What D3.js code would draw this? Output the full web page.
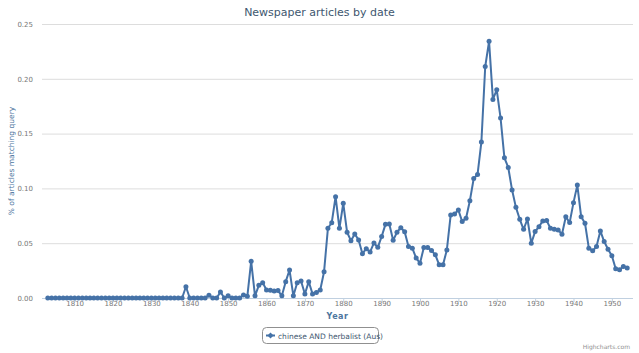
<!DOCTYPE html>
<html>
<head>
<meta charset="utf-8">
<script src="https://cdn.jsdelivr.net/npm/d3@7"></script>
<style>
  body { margin: 0; background: #fff; }
  svg { display: block; font-family: "DejaVu Sans", Verdana, sans-serif; }
</style>
</head>
<body>
<div id="chart"></div>
<script>
// Years covered by the series
const firstYear = 1803;
const lastYear = 1954;

// % of articles matching query, one value per year from 1803 to 1954
const zeroYears = new Array(1838 - 1803 + 1).fill(0); // 1803-1838
const values1839to1874 = [
  0.0103, 0, 0, 0, 0, 0, 0.0025, 0, 0, 0.0055, 0, 0.002,
  0, 0, 0, 0.0027, 0.0015, 0.0335, 0.002, 0.0116, 0.014, 0.0073,
  0.007, 0.0065, 0.0068, 0.002, 0.0149, 0.0255, 0.002, 0.014, 0.0155, 0.0036,
  0.0149, 0.0036, 0.005, 0.0073
];
const values1875to1914 = [
  0.024, 0.0636, 0.0687, 0.0924, 0.0636, 0.0864, 0.06, 0.0523, 0.0584, 0.053,
  0.0404, 0.045, 0.042, 0.0502, 0.0462, 0.056, 0.0672, 0.0675, 0.0526, 0.06,
  0.0642, 0.0604, 0.047, 0.0455, 0.0364, 0.0318, 0.046, 0.046, 0.0433, 0.0394,
  0.0303, 0.0303, 0.0439, 0.0758, 0.0767, 0.0803, 0.0697, 0.0727, 0.0888, 0.109
];
const values1915to1954 = [
  0.1127, 0.1424, 0.2112, 0.2342, 0.1812, 0.19, 0.1642, 0.1279, 0.1191, 0.0985,
  0.0827, 0.0718, 0.0627, 0.0721, 0.05, 0.0606, 0.0651, 0.0703, 0.0706, 0.0636,
  0.0627, 0.0621, 0.0582, 0.0742, 0.0688, 0.087, 0.103, 0.0742, 0.0682, 0.0455,
  0.043, 0.047, 0.0612, 0.0515, 0.0445, 0.0385, 0.0267, 0.0258, 0.0288, 0.0273
];
const seriesValues = zeroYears.concat(values1839to1874, values1875to1914, values1915to1954);

// Tick labels
const yTicks = [0, 0.05, 0.10, 0.15, 0.20, 0.25];
const xTicks = [1810, 1820, 1830, 1840, 1850, 1860, 1870, 1880, 1890, 1900, 1910, 1920, 1930, 1940, 1950];

const seriesName = 'chinese AND herbalist (Aus)';
const titleText = 'Newspaper articles by date';

const data = seriesValues.map((v, i) => ({ year: firstYear + i, value: v }));

const width = 639;
const height = 353;
const plot = { left: 42, right: 633, top: 24, bottom: 298 };
const color = '#4572A7';

const svg = d3.select('#chart')
  .append('svg')
  .attr('width', width)
  .attr('height', height);

// 1% padding on both ends, like the original chart
const pad = (lastYear - firstYear) * 0.01;
const x = d3.scaleLinear()
  .domain([firstYear - pad, lastYear + pad])
  .range([plot.left, plot.right]);

const y = d3.scaleLinear()
  .domain([0, 0.25])
  .range([plot.bottom, plot.top]);

// Title
svg.append('text')
  .attr('x', width / 2)
  .attr('y', 16)
  .attr('text-anchor', 'middle')
  .attr('fill', '#3E576F')
  .style('font-size', '11px')
  .text(titleText);

// Horizontal grid + y labels
const yAxis = svg.append('g')
  .attr('transform', `translate(${plot.left},0)`)
  .call(d3.axisLeft(y)
    .tickValues(yTicks)
    .tickFormat(d3.format('.2f'))
    .tickSize(-(plot.right - plot.left))
    .tickPadding(9));
yAxis.select('.domain').remove();
yAxis.selectAll('line').attr('stroke', '#DDDDDD');
yAxis.selectAll('text')
  .attr('fill', '#777')
  .style('font-size', '7px')
  .style('font-family', '"DejaVu Sans", sans-serif');

// Y axis title
svg.append('text')
  .attr('transform', `translate(14,${(plot.top + plot.bottom) / 2}) rotate(-90)`)
  .attr('text-anchor', 'middle')
  .attr('fill', '#4d759e')
  .style('font-size', '7.5px')
  .text('% of articles matching query');

// X axis
const xAxis = svg.append('g')
  .attr('transform', `translate(0,${plot.bottom})`)
  .call(d3.axisBottom(x)
    .tickValues(xTicks)
    .tickFormat(d3.format('d'))
    .tickSize(4)
    .tickSizeOuter(0)
    .tickPadding(-1));
xAxis.select('.domain')
  .attr('stroke', '#C0D0E0')
  .attr('d', `M${plot.left},0.5H${plot.right}`);
xAxis.selectAll('line').attr('stroke', '#C0D0E0');
xAxis.selectAll('text')
  .attr('fill', '#777')
  .style('font-size', '7px')
  .style('font-family', '"DejaVu Sans", sans-serif');

// X axis title
svg.append('text')
  .attr('x', (plot.left + plot.right) / 2)
  .attr('y', 319)
  .attr('text-anchor', 'middle')
  .attr('fill', '#4d759e')
  .style('font-size', '8px')
  .style('font-weight', 'bold')
  .style('letter-spacing', '0.5px')
  .text('Year');

// Line
const line = d3.line()
  .x(d => x(d.year))
  .y(d => y(d.value));

svg.append('path')
  .datum(data)
  .attr('d', line)
  .attr('fill', 'none')
  .attr('stroke', color)
  .attr('stroke-width', 2)
  .attr('stroke-linejoin', 'round');

svg.selectAll('.dot')
  .data(data)
  .enter().append('circle')
  .attr('class', 'dot')
  .attr('cx', d => x(d.year))
  .attr('cy', d => y(d.value))
  .attr('r', 2.5)
  .attr('fill', color);

// Legend
const legend = svg.append('g').attr('transform', 'translate(262,327)');
legend.append('rect')
  .attr('x', 0.5)
  .attr('y', 0.5)
  .attr('width', 116)
  .attr('height', 16)
  .attr('rx', 4)
  .attr('fill', '#fff')
  .attr('stroke', '#909090');
legend.append('line')
  .attr('x1', 4).attr('x2', 13)
  .attr('y1', 8.5).attr('y2', 8.5)
  .attr('stroke', color)
  .attr('stroke-width', 2);
legend.append('path')
  .attr('d', 'M8.5,5.5L11.5,8.5L8.5,11.5L5.5,8.5Z')
  .attr('fill', color);
legend.append('text')
  .attr('x', 16)
  .attr('y', 11.5)
  .attr('fill', '#3E576F')
  .style('font-size', '7.5px')
  .text(seriesName);

// Credits
svg.append('text')
  .attr('x', 630)
  .attr('y', 349)
  .attr('text-anchor', 'end')
  .attr('fill', '#909090')
  .style('font-size', '6px')
  .text('Highcharts.com');
</script>
</body>
</html>
